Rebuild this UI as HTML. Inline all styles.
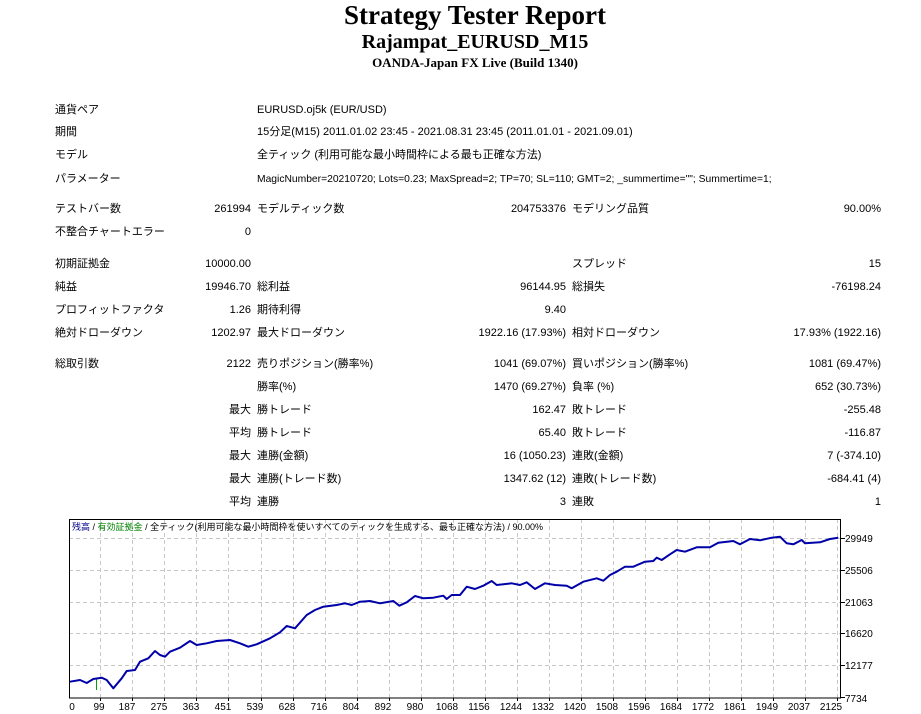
<!DOCTYPE html>
<html><head><meta charset="utf-8"><style>
body{margin:0;width:921px;height:714px;background:#fff;position:relative;overflow:hidden;font-family:"Liberation Sans","Noto Sans CJK JP",sans-serif;font-size:11px;color:#000}
.t{position:absolute;white-space:nowrap;line-height:14px}
.r{text-align:right}
.h{position:absolute;left:0;width:950px;text-align:center;font-family:"Liberation Serif",serif;font-weight:bold;white-space:nowrap}
</style></head><body>
<div class="h" style="top:0px;font-size:27px;line-height:30px">Strategy Tester Report</div>
<div class="h" style="top:30px;font-size:20px;line-height:24px">Rajampat_EURUSD_M15</div>
<div class="h" style="top:55px;font-size:13px;line-height:16px">OANDA-Japan FX Live (Build 1340)</div>

<div class="t" style="left:55px;top:103px">通貨ペア</div><div class="t" style="left:257px;top:103px">EURUSD.oj5k (EUR/USD)</div>
<div class="t" style="left:55px;top:125px">期間</div><div class="t" style="left:257px;top:125px">15分足(M15) 2011.01.02 23:45 - 2021.08.31 23:45 (2011.01.01 - 2021.09.01)</div>
<div class="t" style="left:55px;top:148px">モデル</div><div class="t" style="left:257px;top:148px">全ティック (利用可能な最小時間枠による最も正確な方法)</div>
<div class="t" style="left:55px;top:172px">パラメーター</div><div class="t" style="left:257px;top:173px;font-size:10.3px">MagicNumber=20210720; Lots=0.23; MaxSpread=2; TP=70; SL=110; GMT=2; _summertime=""; Summertime=1;</div>

<div class="t" style="left:55px;top:202px">テストバー数</div><div class="t r" style="right:670px;top:202px">261994</div><div class="t" style="left:257px;top:202px">モデルティック数</div><div class="t r" style="right:355px;top:202px">204753376</div><div class="t" style="left:572px;top:202px">モデリング品質</div><div class="t r" style="right:40px;top:202px">90.00%</div>
<div class="t" style="left:55px;top:225px">不整合チャートエラー</div><div class="t r" style="right:670px;top:225px">0</div>

<div class="t" style="left:55px;top:257px">初期証拠金</div><div class="t r" style="right:670px;top:257px">10000.00</div><div class="t" style="left:572px;top:257px">スプレッド</div><div class="t r" style="right:40px;top:257px">15</div>
<div class="t" style="left:55px;top:280px">純益</div><div class="t r" style="right:670px;top:280px">19946.70</div><div class="t" style="left:257px;top:280px">総利益</div><div class="t r" style="right:355px;top:280px">96144.95</div><div class="t" style="left:572px;top:280px">総損失</div><div class="t r" style="right:40px;top:280px">-76198.24</div>
<div class="t" style="left:55px;top:303px">プロフィットファクタ</div><div class="t r" style="right:670px;top:303px">1.26</div><div class="t" style="left:257px;top:303px">期待利得</div><div class="t r" style="right:355px;top:303px">9.40</div>
<div class="t" style="left:55px;top:326px">絶対ドローダウン</div><div class="t r" style="right:670px;top:326px">1202.97</div><div class="t" style="left:257px;top:326px">最大ドローダウン</div><div class="t r" style="right:355px;top:326px">1922.16 (17.93%)</div><div class="t" style="left:572px;top:326px">相対ドローダウン</div><div class="t r" style="right:40px;top:326px">17.93% (1922.16)</div>

<div class="t" style="left:55px;top:357px">総取引数</div><div class="t r" style="right:670px;top:357px">2122</div><div class="t" style="left:257px;top:357px">売りポジション(勝率%)</div><div class="t r" style="right:355px;top:357px">1041 (69.07%)</div><div class="t" style="left:572px;top:357px">買いポジション(勝率%)</div><div class="t r" style="right:40px;top:357px">1081 (69.47%)</div>
<div class="t" style="left:257px;top:380px">勝率(%)</div><div class="t r" style="right:355px;top:380px">1470 (69.27%)</div><div class="t" style="left:572px;top:380px">負率 (%)</div><div class="t r" style="right:40px;top:380px">652 (30.73%)</div>
<div class="t r" style="right:670px;top:403px">最大</div><div class="t" style="left:257px;top:403px">勝トレード</div><div class="t r" style="right:355px;top:403px">162.47</div><div class="t" style="left:572px;top:403px">敗トレード</div><div class="t r" style="right:40px;top:403px">-255.48</div>
<div class="t r" style="right:670px;top:426px">平均</div><div class="t" style="left:257px;top:426px">勝トレード</div><div class="t r" style="right:355px;top:426px">65.40</div><div class="t" style="left:572px;top:426px">敗トレード</div><div class="t r" style="right:40px;top:426px">-116.87</div>
<div class="t r" style="right:670px;top:449px">最大</div><div class="t" style="left:257px;top:449px">連勝(金額)</div><div class="t r" style="right:355px;top:449px">16 (1050.23)</div><div class="t" style="left:572px;top:449px">連敗(金額)</div><div class="t r" style="right:40px;top:449px">7 (-374.10)</div>
<div class="t r" style="right:670px;top:472px">最大</div><div class="t" style="left:257px;top:472px">連勝(トレード数)</div><div class="t r" style="right:355px;top:472px">1347.62 (12)</div><div class="t" style="left:572px;top:472px">連敗(トレード数)</div><div class="t r" style="right:40px;top:472px">-684.41 (4)</div>
<div class="t r" style="right:670px;top:495px">平均</div><div class="t" style="left:257px;top:495px">連勝</div><div class="t r" style="right:355px;top:495px">3</div><div class="t" style="left:572px;top:495px">連敗</div><div class="t r" style="right:40px;top:495px">1</div>

<svg style="position:absolute;left:0;top:0" width="921" height="714" font-family="Liberation Sans, sans-serif">
<g stroke="#c8c8c8" stroke-dasharray="4,3" stroke-width="1">
<line x1="69" x2="841" y1="538.5" y2="538.5"/><line x1="69" x2="841" y1="570.5" y2="570.5"/><line x1="69" x2="841" y1="602.5" y2="602.5"/><line x1="69" x2="841" y1="633.5" y2="633.5"/><line x1="69" x2="841" y1="665.5" y2="665.5"/>
<line x1="100.5" x2="100.5" y1="519" y2="698"/><line x1="132.5" x2="132.5" y1="519" y2="698"/><line x1="164.5" x2="164.5" y1="519" y2="698"/><line x1="196.5" x2="196.5" y1="519" y2="698"/><line x1="228.5" x2="228.5" y1="519" y2="698"/><line x1="261.5" x2="261.5" y1="519" y2="698"/><line x1="293.5" x2="293.5" y1="519" y2="698"/><line x1="325.5" x2="325.5" y1="519" y2="698"/><line x1="357.5" x2="357.5" y1="519" y2="698"/><line x1="389.5" x2="389.5" y1="519" y2="698"/><line x1="421.5" x2="421.5" y1="519" y2="698"/><line x1="453.5" x2="453.5" y1="519" y2="698"/><line x1="485.5" x2="485.5" y1="519" y2="698"/><line x1="517.5" x2="517.5" y1="519" y2="698"/><line x1="549.5" x2="549.5" y1="519" y2="698"/><line x1="581.5" x2="581.5" y1="519" y2="698"/><line x1="613.5" x2="613.5" y1="519" y2="698"/><line x1="645.5" x2="645.5" y1="519" y2="698"/><line x1="677.5" x2="677.5" y1="519" y2="698"/><line x1="709.5" x2="709.5" y1="519" y2="698"/><line x1="741.5" x2="741.5" y1="519" y2="698"/><line x1="773.5" x2="773.5" y1="519" y2="698"/><line x1="805.5" x2="805.5" y1="519" y2="698"/><line x1="837.5" x2="837.5" y1="519" y2="698"/>
</g>
<g stroke="#000" stroke-width="1">
<line x1="841" x2="845" y1="538.5" y2="538.5"/><line x1="841" x2="845" y1="570.5" y2="570.5"/><line x1="841" x2="845" y1="602.5" y2="602.5"/><line x1="841" x2="845" y1="633.5" y2="633.5"/><line x1="841" x2="845" y1="665.5" y2="665.5"/><line x1="841" x2="845" y1="697.5" y2="697.5"/>
<line x1="100.5" x2="100.5" y1="698" y2="701"/><line x1="132.5" x2="132.5" y1="698" y2="701"/><line x1="164.5" x2="164.5" y1="698" y2="701"/><line x1="196.5" x2="196.5" y1="698" y2="701"/><line x1="228.5" x2="228.5" y1="698" y2="701"/><line x1="261.5" x2="261.5" y1="698" y2="701"/><line x1="293.5" x2="293.5" y1="698" y2="701"/><line x1="325.5" x2="325.5" y1="698" y2="701"/><line x1="357.5" x2="357.5" y1="698" y2="701"/><line x1="389.5" x2="389.5" y1="698" y2="701"/><line x1="421.5" x2="421.5" y1="698" y2="701"/><line x1="453.5" x2="453.5" y1="698" y2="701"/><line x1="485.5" x2="485.5" y1="698" y2="701"/><line x1="517.5" x2="517.5" y1="698" y2="701"/><line x1="549.5" x2="549.5" y1="698" y2="701"/><line x1="581.5" x2="581.5" y1="698" y2="701"/><line x1="613.5" x2="613.5" y1="698" y2="701"/><line x1="645.5" x2="645.5" y1="698" y2="701"/><line x1="677.5" x2="677.5" y1="698" y2="701"/><line x1="709.5" x2="709.5" y1="698" y2="701"/><line x1="741.5" x2="741.5" y1="698" y2="701"/><line x1="773.5" x2="773.5" y1="698" y2="701"/><line x1="805.5" x2="805.5" y1="698" y2="701"/><line x1="837.5" x2="837.5" y1="698" y2="701"/>
</g>
<rect x="69.5" y="519.5" width="771" height="178.5" fill="none" stroke="#000" stroke-width="1"/>
<line x1="96.5" x2="96.5" y1="679" y2="690" stroke="#00a000" stroke-width="1"/>
<polyline fill="none" stroke="#0000a8" stroke-width="2" stroke-linejoin="round" points="70,681.7 80,680 86.7,683 93.3,679 101.7,677.7 106.7,680 113.3,688.3 121.7,678.3 126.7,671 135,670 140,661.7 148.3,658.3 155,651 160,655 165,656.7 170,651.7 180,647.7 190,641 196.7,645 206.7,643.3 216.7,641 230,640 240,643.3 248.3,646.7 256.7,644.3 270,638.3 280,632.3 286.7,626 295,628.3 306.7,615 315,610 323.3,606.7 336.7,605 345,603.3 351.7,605 360,601.7 370,601 380,603.3 393.3,601 399.3,605.7 406.7,602.3 415,596 423.3,598.3 433.3,597.7 443.3,595.7 446.7,599 451.7,595 460,595 466.7,586.7 475,589 483.3,585.7 491.7,581 496.7,585 511.7,583.3 520,585 526.7,582.3 535,589 545,583.3 555,585 566.7,585.7 571.7,588.3 583.3,581.7 596.7,578.3 603.3,580.7 610,575 616.7,571.7 625,566.7 633.3,566.7 645,561.7 653.3,561 656.7,557.7 661.7,560 670,554.3 676.7,550 685,551.7 696.7,547.3 710,547.3 718.3,542.7 733.3,541 740,544.3 750,539 760,540.3 771.7,537.7 780,536.7 786.7,543.3 793.3,544.3 801.7,540 805,543.3 820,542.3 830,539 838.3,537.7"/>
<text x="72" y="530" font-size="9" fill="#00008b">残高 <tspan fill="#000">/</tspan> <tspan fill="#008000">有効証拠金</tspan> <tspan fill="#000">/ 全ティック(利用可能な最小時間枠を使いすべてのティックを生成する、最も正確な方法) / 90.00%</tspan></text>
<g font-size="10" fill="#000">
<text x="845" y="542">29949</text><text x="845" y="574">25506</text><text x="845" y="606">21063</text><text x="845" y="637">16620</text><text x="845" y="669">12177</text><text x="845" y="702">7734</text>
</g>
<g font-size="10" fill="#000" text-anchor="middle">
<text x="72" y="710">0</text><text x="99" y="710">99</text><text x="127" y="710">187</text><text x="159" y="710">275</text><text x="191" y="710">363</text><text x="223" y="710">451</text><text x="255" y="710">539</text><text x="287" y="710">628</text><text x="319" y="710">716</text><text x="351" y="710">804</text><text x="383" y="710">892</text><text x="415" y="710">980</text><text x="447" y="710">1068</text><text x="479" y="710">1156</text><text x="511" y="710">1244</text><text x="543" y="710">1332</text><text x="575" y="710">1420</text><text x="607" y="710">1508</text><text x="639" y="710">1596</text><text x="671" y="710">1684</text><text x="703" y="710">1772</text><text x="735" y="710">1861</text><text x="767" y="710">1949</text><text x="799" y="710">2037</text><text x="831" y="710">2125</text>
</g>
</svg>
</body></html>
